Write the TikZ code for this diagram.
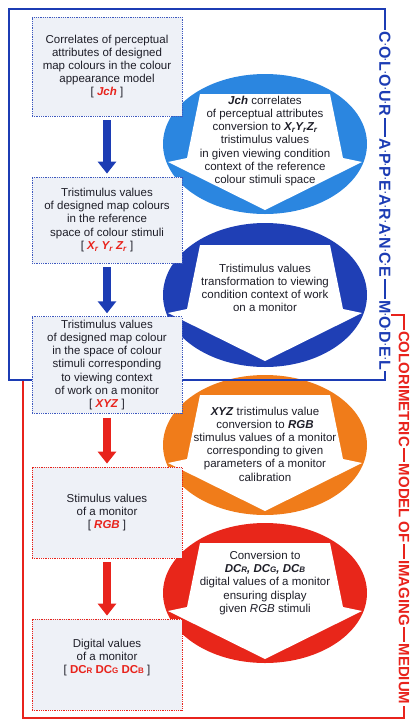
\documentclass[tikz,border=0pt]{standalone}
\usepackage{fontspec}
\setmainfont{Liberation Sans}
\usetikzlibrary{arrows.meta,positioning,calc}

\definecolor{frameblue}{HTML}{1C3CB4}
\definecolor{framered}{HTML}{E8231C}
\definecolor{boxfill}{HTML}{EEF1F7}
\definecolor{ellA}{HTML}{2B86E0}
\definecolor{ellB}{HTML}{1F3FB5}
\definecolor{ellC}{HTML}{F07C1A}
\definecolor{ellD}{HTML}{E8261A}
\definecolor{txt}{HTML}{1E1E28}

\newcommand{\hl}[1]{\textcolor{framered}{\textbf{\textit{#1}}}}
\newcommand{\bi}[1]{\textbf{\textit{#1}}}
\newcommand{\sub}[1]{\textsubscript{#1}}
\newcommand{\wdot}{\raisebox{2.8pt}{\fontsize{9}{9}\selectfont ·}}
\newcommand{\bodyfont}{\fontsize{11.5}{13.2}\selectfont}

\begin{document}
\begin{tikzpicture}[x=1pt,y=-1pt,
    mapbox/.style={draw, densely dotted, line width=0.8pt, fill=boxfill,
      minimum width=150pt, align=center, text=txt, font=\bodyfont},
    bluebox/.style={mapbox, draw=frameblue!85},
    redbox/.style={mapbox, draw=framered},
    convtext/.style={align=center, text=txt, font=\bodyfont, inner sep=0pt},
    flowarrow/.style={line width=8pt, -{Triangle[length=12pt,width=18pt]},
      shorten <=4pt, shorten >=3pt},
    blueword/.style={rotate=-90, fill=white, text=frameblue, inner xsep=1.5pt,
      inner ysep=0pt, font=\bfseries\fontsize{16}{16}\selectfont},
    redword/.style={rotate=-90, fill=white, text=framered, inner xsep=1.5pt,
      inner ysep=0pt, font=\bfseries\fontsize{15}{15}\selectfont}]
  \useasboundingbox (0,0) rectangle (412,721);

  % colorimetric model frame
  \draw[framered, line width=1.6pt] (385,315) -- (404,315) -- (404,718) -- (23,718) -- (23,380);

  % conversion ellipses with white arrows
  \foreach \cy/\ry/\col in {144/70/ellA, 295/72/ellB, 445/70/ellC, 593/70/ellD}{
    \fill[\col] (265,\cy) ellipse [x radius=102, y radius=\ry];
    \fill[white] (200,\cy-50) -- (330,\cy-50) -- (343,\cy+14) -- (362,\cy+18)
      -- (265,\cy+66) -- (168,\cy+18) -- (187,\cy+14) -- cycle;
  }
  \node[convtext] (jch2xyz) at (265,141) {\bi{Jch} correlates\\ of perceptual attributes\\
    conversion to \bi{X\sub{r}Y\sub{r}Z\sub{r}}\\ tristimulus values\\
    in given viewing condition\\ context of the reference\\ colour stimuli space};
  \node[convtext] (adapt) at (265,288) {Tristimulus values\\ transformation to viewing\\
    condition context of work\\ on a monitor};
  \node[convtext] (xyz2rgb) at (265,444) {\bi{XYZ} tristimulus value\\ conversion to \bi{RGB}\\
    stimulus values of a monitor\\ corresponding to given\\ parameters of a monitor\\ calibration};
  \node[convtext] (rgb2dc) at (265,583) {Conversion to\\
    \bi{DC{\footnotesize R}, DC{\footnotesize G}, DC{\footnotesize B}}\\
    digital values of a monitor\\ ensuring display\\ given \textit{RGB} stimuli};

  % colour appearance model frame
  \draw[frameblue, line width=2.2pt] (9,9) rectangle (385,380);

  % left column
  \node[bluebox, minimum height=99pt] (jch) at (107,66.5) {Correlates of perceptual\\
    attributes of designed\\ map colours in the colour\\ appearance model\\ {[}~\hl{Jch}~{]}};
  \node[bluebox, minimum height=86pt] (xyzr) at (107,220) {Tristimulus values\\
    of designed map colours\\ in the reference\\ space of colour stimuli\\
    {[}~\hl{X\sub{r} Y\sub{r} Z\sub{r}}~{]}};
  \node[bluebox, minimum height=94pt] (xyz) at (107,365) {Tristimulus values\\
    of designed map colour\\ in the space of colour\\ stimuli corresponding\\
    to viewing context\\ of work on a monitor\\ {[}~\hl{XYZ}~{]}};
  \node[redbox, minimum height=91pt] (rgb) at (107,512.5) {Stimulus values\\ of a monitor\\
    {[}~\hl{RGB}~{]}};
  \node[redbox, minimum height=91pt] (dc) at (107,664.5) {Digital values\\ of a monitor\\
    {[}~\textcolor{framered}{\textbf{DC{\footnotesize R} DC{\footnotesize G} DC{\footnotesize B}}}~{]}\\[3pt]};

  \draw[flowarrow, frameblue] (jch) -- (xyzr);
  \draw[flowarrow, frameblue] (xyzr) -- (xyz);
  \draw[flowarrow, framered] (xyz) -- (rgb);
  \draw[flowarrow, framered] (rgb) -- (dc);

  % frame titles
  \node[blueword] (colour) at (385,74) {C\wdot O\wdot L\wdot O\wdot U\wdot R};
  \node[blueword] (appearance) at (385,208) {A\wdot P\wdot P\wdot E\wdot A\wdot R\wdot A\wdot N\wdot C\wdot E};
  \node[blueword] (model) at (385,335) {M\wdot O\wdot D\wdot E\wdot L};
  \node[redword] (colorimetric) at (404,389) {COLORIMETRIC};
  \node[redword] (model2) at (404,491) {MODEL};
  \node[redword] (of) at (404,532) {OF};
  \node[redword] (imaging) at (404,593) {IMAGING};
  \node[redword] (medium) at (404,674) {MEDIUM};
\end{tikzpicture}
\end{document}
